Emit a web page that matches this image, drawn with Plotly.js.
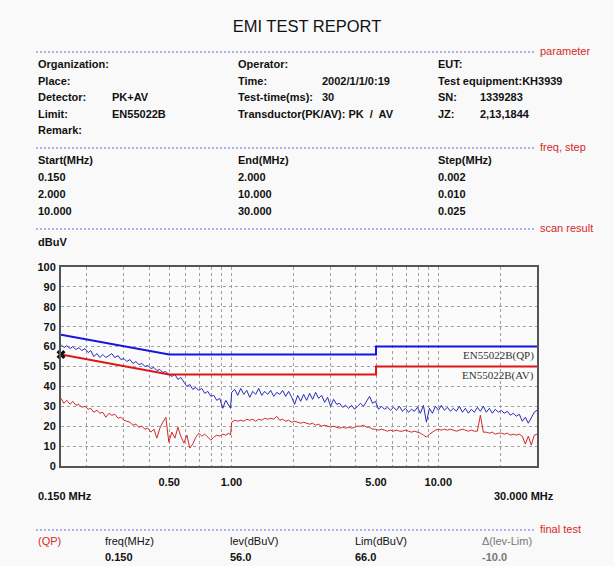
<!DOCTYPE html>
<html>
<head>
<meta charset="utf-8">
<script src="https://cdn.plot.ly/plotly-3.0.1.min.js"></script>
<style>
html,body{margin:0;padding:0;background:#f9f9f9;}
#chart{width:614px;height:566px;}
</style>
</head>
<body>
<div id="chart"></div>
<script>
// ---------- data ----------
const freqMHz = [
  0.150,0.155,0.160,0.166,0.171,0.177,0.183,0.189,0.196,0.203,
  0.209,0.216,0.224,0.231,0.239,0.247,0.256,0.264,0.273,0.283,
  0.292,0.302,0.312,0.323,0.334,0.345,0.357,0.369,0.382,0.394,
  0.408,0.422,0.436,0.451,0.466,0.482,0.498,0.515,0.533,0.551,
  0.569,0.589,0.609,0.629,0.650,0.673,0.695,0.719,0.743,0.769,
  0.795,0.822,0.849,0.878,0.908,0.939,0.971,0.990,1.003,1.037,
  1.073,1.109,1.147,1.186,1.226,1.267,1.310,1.355,1.401,1.448,
  1.497,1.548,1.601,1.655,1.711,1.769,1.829,1.891,1.955,2.021,
  2.090,2.161,2.234,2.310,2.388,2.469,2.553,2.640,2.729,2.822,
  2.917,3.016,3.118,3.224,3.333,3.446,3.563,3.684,3.809,3.938,
  4.071,4.209,4.352,4.499,4.652,4.809,4.972,5.141,5.315,5.495,
  5.681,5.874,6.073,6.279,6.492,6.712,6.939,7.175,7.418,7.669,
  7.929,8.198,8.476,8.763,9.060,9.367,9.685,10.01,10.35,10.70,
  11.07,11.44,11.83,12.23,12.65,13.08,13.52,13.98,14.45,14.94,
  15.45,15.97,16.51,17.07,17.65,18.25,18.87,19.51,20.17,20.85,
  21.56,22.29,23.05,23.83,24.64,25.47,26.34,27.23,28.15,29.11,
  30.00
];
const peakDBuV = [
  61.0,59.5,60.5,59.0,60.0,58.5,59.5,58.0,59.0,57.0,
  58.0,55.0,56.5,54.5,56.0,54.5,55.5,56.5,54.5,55.5,
  53.5,54.0,52.5,53.5,51.5,52.5,51.0,51.5,50.0,50.5,
  49.0,49.5,48.0,48.5,47.0,47.5,46.0,45.0,46.0,43.5,
  44.5,42.0,40.0,41.0,38.5,39.5,38.0,39.0,36.5,37.5,
  35.0,35.5,33.0,34.0,29.0,33.0,30.5,29.0,37.0,38.5,
  35.5,39.0,36.0,38.0,34.5,37.5,36.0,39.0,35.5,37.5,
  36.0,38.0,35.0,37.0,36.0,38.0,35.0,37.5,34.5,31.0,
  35.5,32.5,36.0,33.0,36.5,33.5,37.0,34.0,35.5,32.0,
  34.5,30.0,33.5,31.0,31.5,29.5,30.5,29.0,30.5,28.5,
  30.0,31.5,30.0,32.5,35.0,31.5,32.5,28.5,30.0,28.5,
  29.5,28.0,29.5,28.0,30.0,27.5,29.0,27.0,28.5,27.5,
  29.5,26.5,30.5,22.0,29.0,26.5,30.0,28.0,30.5,28.0,
  29.5,27.5,29.0,27.5,30.0,27.0,29.0,26.5,28.5,27.0,
  29.5,27.5,30.0,27.0,29.0,26.5,28.5,27.0,28.0,26.5,
  27.5,25.5,26.5,25.0,26.0,22.5,24.5,21.5,24.0,27.0,
  28.0
];
const avgDBuV = [
  34.0,31.5,33.0,31.0,32.5,30.5,31.0,29.5,30.0,28.5,
  29.0,27.0,28.0,26.5,27.0,24.5,26.5,25.5,26.0,24.0,
  24.5,23.0,22.5,22.0,20.5,21.0,19.5,20.0,18.5,19.0,
  17.0,18.5,14.0,19.0,22.0,24.5,12.0,17.0,14.0,19.5,
  15.0,11.5,15.5,9.0,11.0,14.5,16.5,15.0,16.0,14.5,
  13.0,14.5,15.5,15.0,16.0,15.5,16.5,15.5,22.0,23.0,
  22.5,23.0,22.5,23.5,23.0,23.5,22.5,23.5,23.0,24.0,
  23.5,24.0,23.5,25.0,23.0,23.5,22.5,23.0,22.0,22.5,
  22.0,21.5,22.0,21.5,21.0,21.5,20.5,21.0,20.0,20.5,
  20.0,19.5,20.0,19.5,19.0,19.5,19.0,19.5,19.0,19.5,
  20.0,20.0,20.5,19.5,19.5,18.5,18.5,18.0,18.5,18.0,
  17.5,18.0,17.5,18.0,17.5,17.5,18.0,17.5,17.0,17.5,
  17.0,16.5,15.5,14.5,16.0,17.0,18.0,18.5,18.0,18.5,
  18.0,18.5,18.0,17.5,18.0,18.5,18.0,17.5,18.0,17.5,
  17.5,25.5,17.0,17.0,16.5,17.0,16.0,16.5,16.5,16.0,
  16.5,15.5,16.0,15.5,16.0,15.0,11.0,15.0,10.5,15.5,
  16.0
];
const limitFreq = [0.15, 0.5, 5, 5, 30];
const qpLimit   = [66, 56, 56, 60, 60];
const avLimit   = [56, 46, 46, 50, 50];
const qpLimitName = 'EN55022B(QP)';
const avLimitName = 'EN55022B(AV)';

const finalFreq = [0.150];
const finalLev  = [56.0];
const finalLim  = [66.0];

const yTicks = [0,10,20,30,40,50,60,70,80,90,100];
const xGrid  = [0.2,0.3,0.4,0.5,0.6,0.7,0.8,0.9,1,2,3,4,5,6,7,8,9,10,20];
const xLabelled = {0.5:'0.50', 1:'1.00', 5:'5.00', 10:'10.00'};

const paramRows = [
  ['Organization:', '', 'Operator:', '', 'EUT:', ''],
  ['Place:', '', 'Time:', '2002/1/1/0:19', 'Test equipment:KH3939', ''],
  ['Detector:', 'PK+AV', 'Test-time(ms):', '30', 'SN:', '1339283'],
  ['Limit:', 'EN55022B', 'Transductor(PK/AV): PK  /  AV', '', 'JZ:', '2,13,1844'],
  ['Remark:', '', '', '', '', '']
];
const stepRows = [
  ['Start(MHz)', 'End(MHz)', 'Step(MHz)'],
  ['0.150', '2.000', '0.002'],
  ['2.000', '10.000', '0.010'],
  ['10.000', '30.000', '0.025']
];

// ---------- layout helpers (pixel -> paper) ----------
const L = 61, R = 537, T = 267, B = 466;
const px = x => (x - L) / (R - L);
const py = y => (B - y) / (B - T);
const FONT = 'Liberation Sans, Arial, sans-serif';
const ink = '#111111';
const red = '#d42a2a';
const annotations = [];
function txt(text, x, y, opt) {
  opt = opt || {};
  annotations.push({
    text: text, x: px(x), y: py(y), xref: 'paper', yref: 'paper',
    xanchor: opt.anchor || 'left', yanchor: 'middle', showarrow: false,
    font: {family: FONT, size: opt.size || 11, color: opt.color || ink,
           weight: opt.weight || 'bold'}
  });
}
const shapes = [];
function sep(y, label) {
  shapes.push({type: 'line', xref: 'paper', yref: 'paper',
    x0: px(36), x1: px(534), y0: py(y), y1: py(y),
    line: {color: '#6a6ad8', width: 1, dash: '2px,2px'}});
  txt(label, 538, y - 1, {color: red, weight: 'normal', size: 11});
}

// parameter section
sep(52, 'parameter');
const colX = [36, 110, 236, 320, 436, 478];
const rowY = [64, 81, 97, 114, 130];
paramRows.forEach((row, i) => row.forEach((t, j) => { if (t) txt(t, colX[j], rowY[i]); }));

// freq, step section
sep(148, 'freq, step');
const stepY = [160, 177, 194, 211];
stepRows.forEach((row, i) => row.forEach((t, j) => txt(t, [36, 236, 436][j], stepY[i])));

// scan result
sep(229, 'scan result');
txt('dBuV', 36, 242);
txt('0.150 MHz', 36, 496);
txt('30.000 MHz', 556, 496, {anchor: 'right'});

// final test
sep(530, 'final test');
txt('(QP)', 36, 541, {color: red, weight: 'normal'});
txt('freq(MHz)', 103, 541, {weight: 'normal'});
txt('lev(dBuV)', 228, 541, {weight: 'normal'});
txt('Lim(dBuV)', 353, 541, {weight: 'normal'});
txt('\u0394(lev-Lim)', 480, 541, {weight: 'normal', color: '#777777'});
txt(finalFreq[0].toFixed(3), 103, 557);
txt(finalLev[0].toFixed(1), 228, 557);
txt(finalLim[0].toFixed(1), 353, 557);
txt((finalLev[0] - finalLim[0]).toFixed(1), 480, 557, {color: '#777777'});

// limit labels inside plot
annotations.push({text: qpLimitName, x: Math.log10(30), y: qpLimit[4], xref: 'x', yref: 'y',
  xanchor: 'right', yanchor: 'top', xshift: -1, yshift: 0, showarrow: false,
  font: {family: 'Liberation Serif, serif', size: 11, color: '#333333'}});
annotations.push({text: avLimitName, x: Math.log10(30), y: avLimit[4], xref: 'x', yref: 'y',
  xanchor: 'right', yanchor: 'top', xshift: -1, yshift: 0, showarrow: false,
  font: {family: 'Liberation Serif, serif', size: 11, color: '#333333'}});

const traces = [
  {x: freqMHz, y: avgDBuV, type: 'scatter', mode: 'lines', name: 'AV',
   line: {color: '#d02a2a', width: 1}},
  {x: freqMHz, y: peakDBuV, type: 'scatter', mode: 'lines', name: 'PK',
   line: {color: '#2a2ab8', width: 1}},
  {x: limitFreq, y: avLimit, type: 'scatter', mode: 'lines', name: avLimitName,
   line: {color: '#e01515', width: 2}},
  {x: limitFreq, y: qpLimit, type: 'scatter', mode: 'lines', name: qpLimitName,
   line: {color: '#1515e0', width: 2}},
  {x: finalFreq, y: finalLev, type: 'scatter', mode: 'markers', name: 'QP',
   marker: {symbol: 'x', size: 8, color: '#111111'}, cliponaxis: false}
];

const layout = {
  width: 614, height: 566,
  margin: {l: L, r: 614 - R, t: T, b: 566 - B},
  paper_bgcolor: '#f9f9f9', plot_bgcolor: '#fbfbfb',
  showlegend: false,
  title: {text: 'EMI TEST REPORT', x: 0.5, xanchor: 'center', xref: 'container',
          y: 1 - 26 / 566, yanchor: 'middle', yref: 'container',
          font: {family: FONT, size: 16.5, color: ink}},
  xaxis: {type: 'log', range: [Math.log10(0.15), Math.log10(30)],
          tickmode: 'array', tickvals: xGrid, ticktext: xGrid.map(v => xLabelled[v] || ''),
          ticks: '', showgrid: true, gridcolor: '#a0a0a0', griddash: '3px,3px', gridwidth: 1,
          showline: true, mirror: true, linecolor: '#555555', linewidth: 2,
          zeroline: false, ticklabelstandoff: 5,
          tickfont: {family: FONT, size: 11, color: ink, weight: 'bold'}},
  yaxis: {range: [0, 100], tickmode: 'array', tickvals: yTicks,
          ticks: '', showgrid: true, gridcolor: '#a0a0a0', griddash: '3px,3px', gridwidth: 1,
          showline: true, mirror: true, linecolor: '#555555', linewidth: 2,
          zeroline: false, ticklabelstandoff: 1,
          tickfont: {family: FONT, size: 11, color: ink, weight: 'bold'}},
  annotations: annotations,
  shapes: shapes
};

Plotly.newPlot('chart', traces, layout, {displayModeBar: false, staticPlot: true});
</script>
</body>
</html>
